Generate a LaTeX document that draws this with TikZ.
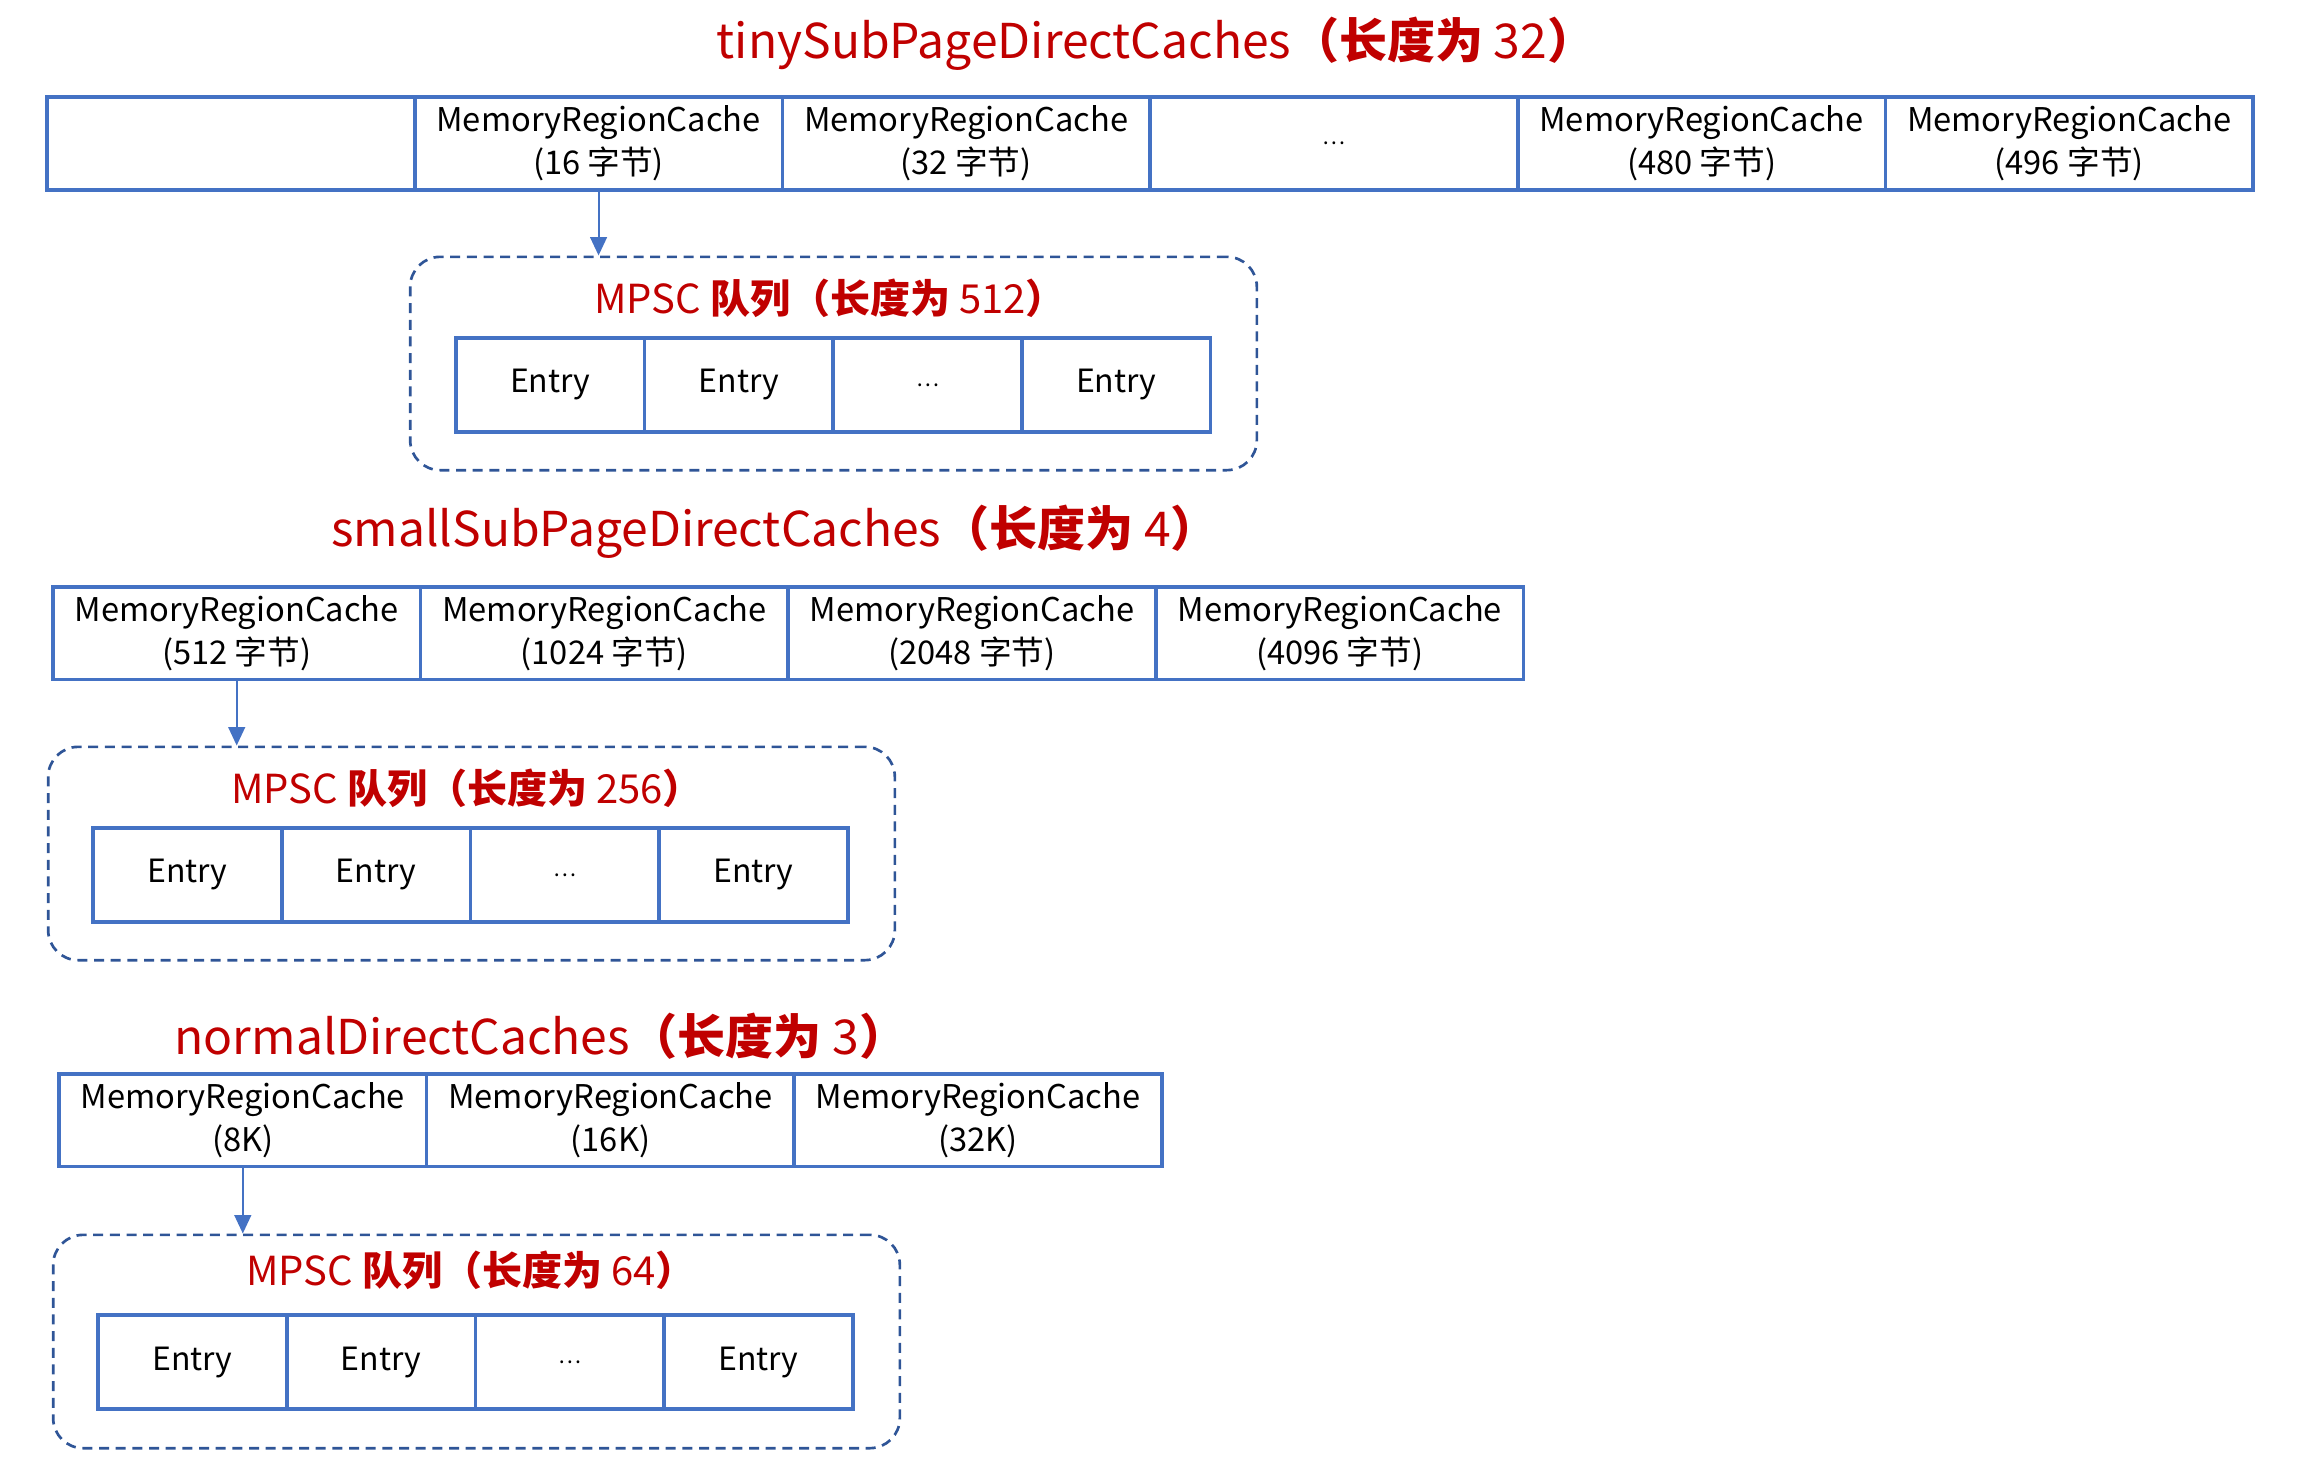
\documentclass[tikz,border=0pt]{standalone}
\usepackage{fontspec}
\setmainfont{Noto Sans CJK SC}
\usetikzlibrary{positioning,arrows.meta}
\definecolor{cellblue}{HTML}{4472C4}
\definecolor{queueblue}{HTML}{2F5597}
\definecolor{titlered}{HTML}{C00000}
\newcommand{\zh}[1]{{\bfseries #1}}
\newcommand{\etc}{{\fontsize{6.5}{8}\selectfont …}}
\tikzset{
  cellbox/.style={draw=cellblue, line width=1.1pt, minimum width=110.3pt, minimum height=27.8pt,
    inner sep=0pt, outer sep=0pt, align=center, font=\fontsize{9.8}{12.8}\selectfont},
  entrybox/.style={cellbox, minimum width=56.6pt, minimum height=28.2pt, font=\fontsize{9.6}{12}\selectfont},
  queuebox/.style={draw=queueblue, dash pattern=on 3pt off 2pt, line width=0.8pt,
    rounded corners=9pt, minimum width=254pt, minimum height=64pt},
  bigtitle/.style={text=titlered, font=\fontsize{14.4}{16}\selectfont},
  queuetitle/.style={text=titlered, font=\fontsize{12}{14}\selectfont},
  pointer/.style={draw=cellblue, line width=0.6pt, -{Triangle[length=5.5pt,width=5pt]}}
}
\begin{document}
\begin{tikzpicture}[x=0.3pt, y=-0.3pt]
    \useasboundingbox (0,0) rectangle (2305,1466);
    % tiny caches
    \node[bigtitle] (tinyT) at (1156,44) {tinySubPageDirectCaches\zh{（长度为} 32\zh{）}};
    \node[cellbox] (tiny0) at (230.9,143.5) {};
    \node[cellbox, right=0pt of tiny0] (tiny1) {MemoryRegionCache\\(16 字节)};
    \node[cellbox, right=0pt of tiny1] (tiny2) {MemoryRegionCache\\(32 字节)};
    \node[cellbox, right=0pt of tiny2] (tiny3) {\etc};
    \node[cellbox, right=0pt of tiny3] (tiny4) {MemoryRegionCache\\(480 字节)};
    \node[cellbox, right=0pt of tiny4] (tiny5) {MemoryRegionCache\\(496 字节)};
    \node[queuebox] (tinyQ) at (833.5,363.5) {};
    \node[queuetitle] (tinyQT) at (830,298) {MPSC \zh{队列（长度为} 512\zh{）}};
    \node[entrybox] (tinyE0) at (550.3,385) {Entry};
    \node[entrybox, right=0pt of tinyE0] (tinyE1) {Entry};
    \node[entrybox, right=0pt of tinyE1] (tinyE2) {\etc};
    \node[entrybox, right=0pt of tinyE2] (tinyE3) {Entry};
    \draw[pointer] (tiny1.south) -- (tiny1.south |- tinyQ.north);

    % small caches
    \node[bigtitle] (smallT) at (775,532) {smallSubPageDirectCaches\zh{（长度为} 4\zh{）}};
    \node[cellbox] (small0) at (236.7,633) {MemoryRegionCache\\(512 字节)};
    \node[cellbox, right=0pt of small0] (small1) {MemoryRegionCache\\(1024 字节)};
    \node[cellbox, right=0pt of small1] (small2) {MemoryRegionCache\\(2048 字节)};
    \node[cellbox, right=0pt of small2] (small3) {MemoryRegionCache\\(4096 字节)};
    \node[queuebox] (smallQ) at (471.5,853.5) {};
    \node[queuetitle] (smallQT) at (467,788) {MPSC \zh{队列（长度为} 256\zh{）}};
    \node[entrybox] (smallE0) at (187.4,875) {Entry};
    \node[entrybox, right=0pt of smallE0] (smallE1) {Entry};
    \node[entrybox, right=0pt of smallE1] (smallE2) {\etc};
    \node[entrybox, right=0pt of smallE2] (smallE3) {Entry};
    \draw[pointer] (small0.south) -- (small0.south |- smallQ.north);

    % normal caches
    \node[bigtitle] (normalT) at (541,1036) {normalDirectCaches\zh{（长度为} 3\zh{）}};
    \node[cellbox] (normal0) at (242.8,1120) {MemoryRegionCache\\(8K)};
    \node[cellbox, right=0pt of normal0] (normal1) {MemoryRegionCache\\(16K)};
    \node[cellbox, right=0pt of normal1] (normal2) {MemoryRegionCache\\(32K)};
    \node[queuebox] (normalQ) at (476.5,1341.5) {};
    \node[queuetitle] (normalQT) at (471,1270) {MPSC \zh{队列（长度为} 64\zh{）}};
    \node[entrybox] (normalE0) at (192.4,1362) {Entry};
    \node[entrybox, right=0pt of normalE0] (normalE1) {Entry};
    \node[entrybox, right=0pt of normalE1] (normalE2) {\etc};
    \node[entrybox, right=0pt of normalE2] (normalE3) {Entry};
    \draw[pointer] (normal0.south) -- (normal0.south |- normalQ.north);
\end{tikzpicture}
\end{document}
